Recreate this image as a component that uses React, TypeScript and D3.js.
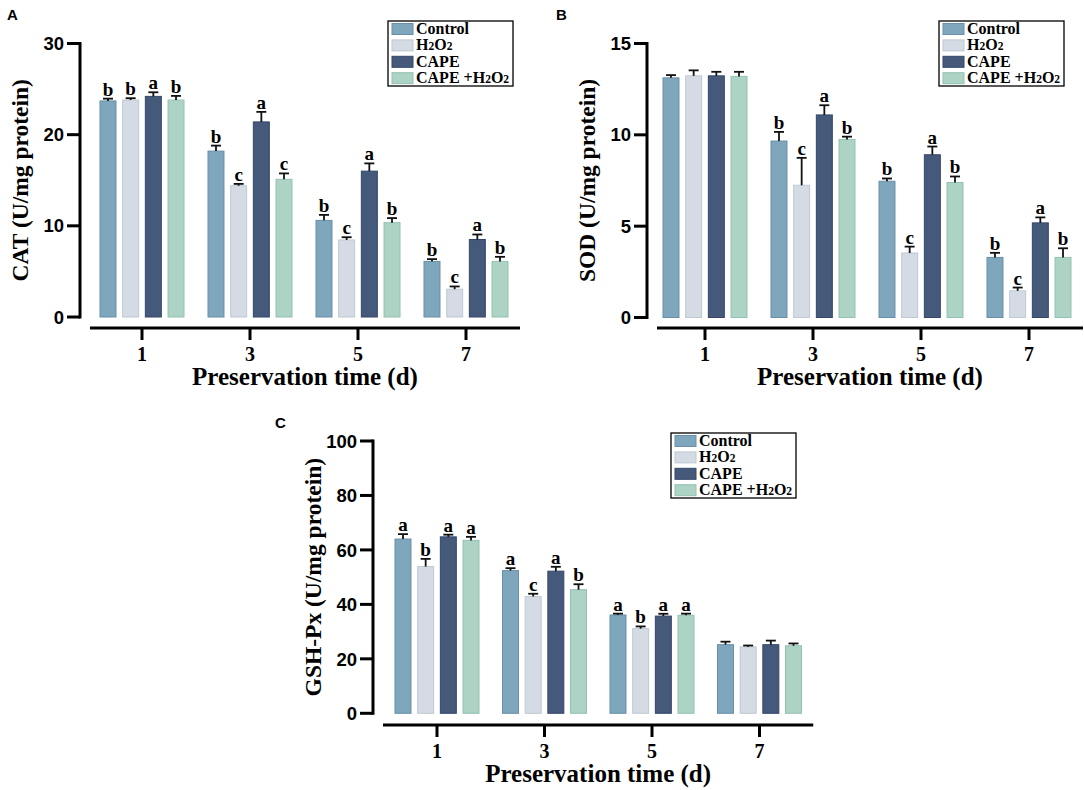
import React from "react";
import * as d3 from "d3";

const days = ["1", "3", "5", "7"];
const seriesNames = ["Control", "H2O2", "CAPE", "CAPE +H2O2"];
const seriesColors = ["#7ea6bc", "#d4dbe4", "#45597b", "#acd3c4"];
const seriesEdges = ["#6990a8", "#bfc8d3", "#34476a", "#94c2b1"];

// CAT (U/mg protein) [day][series]
const catMean = [
  [23.7, 23.8, 24.2, 23.8],
  [18.2, 14.4, 21.4, 15.1],
  [10.6, 8.45, 16.0, 10.35],
  [6.1, 3.05, 8.5, 6.1],
];
const catErr = [
  [0.25, 0.2, 0.45, 0.45],
  [0.6, 0.2, 1.1, 0.65],
  [0.6, 0.3, 0.85, 0.5],
  [0.25, 0.3, 0.55, 0.5],
];
const catLetters = [
  ["b", "b", "a", "b"],
  ["b", "c", "a", "c"],
  ["b", "c", "a", "b"],
  ["b", "c", "a", "b"],
];
const catTicks = [0, 10, 20, 30];

// SOD (U/mg protein)
const sodMean = [
  [13.12, 13.23, 13.23, 13.2],
  [9.66, 7.24, 11.09, 9.75],
  [7.46, 3.53, 8.91, 7.39],
  [3.29, 1.46, 5.18, 3.29],
];
const sodErr = [
  [0.15, 0.3, 0.22, 0.25],
  [0.5, 1.5, 0.53, 0.15],
  [0.15, 0.35, 0.45, 0.33],
  [0.25, 0.18, 0.3, 0.5],
];
const sodLetters = [
  ["", "", "", ""],
  ["b", "c", "a", "b"],
  ["b", "c", "a", "b"],
  ["b", "c", "a", "b"],
];
const sodTicks = [0, 5, 10, 15];

// GSH-Px (U/mg protein)
const gshMean = [
  [64.0, 53.9, 64.8, 63.5],
  [52.4, 42.9, 52.2, 45.4],
  [36.1, 31.1, 35.7, 36.0],
  [25.2, 24.4, 25.2, 24.8],
];
const gshErr = [
  [1.8, 2.8, 0.8, 1.3],
  [0.9, 1.0, 1.6, 2.0],
  [0.5, 0.8, 0.85, 0.6],
  [1.1, 0.5, 1.5, 0.85],
];
const gshLetters = [
  ["a", "b", "a", "a"],
  ["a", "c", "a", "b"],
  ["a", "b", "a", "a"],
  ["", "", "", ""],
];
const gshTicks = [0, 20, 40, 60, 80, 100];

const SERIF = "'Liberation Serif', 'Times New Roman', serif";
const SANS = "'Liberation Sans', Arial, sans-serif";

type PanelProps = {
  tag: string;
  tagX: number;
  tagY: number;
  yAxisX: number;
  yTop: number;
  yZero: number;
  xAxisY: number;
  tick1: number;
  tickStep: number;
  yMax: number;
  ticks: number[];
  mean: number[][];
  err: number[][];
  letters: string[][];
  yTitle: string;
  legendX: number;
  legendY: number;
};

function H2O2Label({ text }: { text: string }) {
  // render subscripts for H2O2
  const parts = text.split(/(2)/);
  return (
    <>
      {parts.map((p, i) =>
        p === "2" ? (
          <tspan key={i} fontSize="0.72em">2</tspan>
        ) : (
          <tspan key={i}>{p}</tspan>
        )
      )}
    </>
  );
}

function Panel(p: PanelProps) {
  const y = d3.scaleLinear().domain([0, p.yMax]).range([p.yZero, p.yTop]);
  const x = d3
    .scalePoint<string>()
    .domain(days)
    .range([p.tick1, p.tick1 + p.tickStep * (days.length - 1)]);
  const inner = d3
    .scaleBand<string>()
    .domain(seriesNames)
    .range([-42, 42])
    .paddingInner(0.295);
  const bw = inner.bandwidth();
  const axisStart = p.yAxisX + 10;
  const axisEnd = (x("7") as number) + p.tickStep / 2;

  return (
    <g>
      <text x={p.tagX} y={p.tagY} fontFamily={SANS} fontWeight="bold" fontSize={15}>
        {p.tag}
      </text>
      {/* bars */}
      {days.map((d, di) =>
        seriesNames.map((s, si) => {
          const bx = (x(d) as number) + (inner(s) as number);
          const v = p.mean[di][si];
          const e = p.err[di][si];
          const top = y(v);
          const etop = y(v + e);
          const cx = bx + bw / 2;
          return (
            <g key={d + s}>
              <rect
                x={bx}
                y={top}
                width={bw}
                height={p.yZero - top}
                fill={seriesColors[si]}
                stroke={seriesEdges[si]}
                strokeWidth={1}
              />
              <line x1={cx} x2={cx} y1={top} y2={etop} stroke="#111" strokeWidth={1.8} />
              <line x1={cx - 5} x2={cx + 5} y1={etop} y2={etop} stroke="#111" strokeWidth={1.8} />
              {p.letters[di][si] && (
                <text
                  x={cx}
                  y={etop - 3}
                  textAnchor="middle"
                  fontFamily={SERIF}
                  fontWeight="bold"
                  fontSize={19}
                >
                  {p.letters[di][si]}
                </text>
              )}
            </g>
          );
        })
      )}
      {/* y axis */}
      <line x1={p.yAxisX} x2={p.yAxisX} y1={y(p.yMax) - 1.5} y2={p.yZero + 1.5} stroke="#000" strokeWidth={3} />
      {p.ticks.map((t) => (
        <g key={t}>
          <line x1={p.yAxisX - 13} x2={p.yAxisX} y1={y(t)} y2={y(t)} stroke="#000" strokeWidth={3} />
          <text
            x={p.yAxisX - 16}
            y={y(t)}
            dy="0.36em"
            textAnchor="end"
            fontFamily={SANS}
            fontWeight="bold"
            fontSize={18.5}
          >
            {t}
          </text>
        </g>
      ))}
      <text
        transform={`translate(${p.yAxisX - 60},${(p.yTop + p.yZero) / 2}) rotate(-90)`}
        textAnchor="middle"
        dy="0.35em"
        fontFamily={SERIF}
        fontWeight="bold"
        fontSize={23.5}
      >
        {p.yTitle}
      </text>
      {/* x axis */}
      <line x1={axisStart} x2={axisEnd} y1={p.xAxisY} y2={p.xAxisY} stroke="#000" strokeWidth={3} />
      {days.map((d) => (
        <g key={d}>
          <line x1={x(d)} x2={x(d)} y1={p.xAxisY} y2={p.xAxisY + 12} stroke="#000" strokeWidth={3} />
          <text
            x={x(d)}
            y={p.xAxisY + 33}
            textAnchor="middle"
            fontFamily={SERIF}
            fontWeight="bold"
            fontSize={20}
          >
            {d}
          </text>
        </g>
      ))}
      <text
        x={(axisStart + axisEnd) / 2}
        y={p.xAxisY + 57}
        textAnchor="middle"
        fontFamily={SERIF}
        fontWeight="bold"
        fontSize={25}
      >
        Preservation time (d)
      </text>
      {/* legend */}
      <g transform={`translate(${p.legendX},${p.legendY})`}>
        <rect x={0} y={0} width={125} height={65} fill="#fff" stroke="#000" strokeWidth={1.3} />
        {seriesNames.map((s, si) => (
          <g key={s} transform={`translate(0,${8 + si * 16.4})`}>
            <rect x={4} y={-5.5} width={21} height={11} fill={seriesColors[si]} stroke={seriesEdges[si]} strokeWidth={1} />
            <text x={28} y={5} fontFamily={SERIF} fontWeight="bold" fontSize={16}>
              <H2O2Label text={s} />
            </text>
          </g>
        ))}
      </g>
    </g>
  );
}

export default function App() {
  return (
    <svg width={1084} height={790} style={{ display: "block", position: "absolute", left: 0, top: 0 }}>
      <rect width={1084} height={790} fill="#fff" />
      <Panel
        tag="A"
        tagX={7}
        tagY={20}
        yAxisX={80}
        yTop={43.5}
        yZero={317}
        xAxisY={328}
        tick1={142}
        tickStep={108}
        yMax={30}
        ticks={catTicks}
        mean={catMean}
        err={catErr}
        letters={catLetters}
        yTitle="CAT (U/mg protein)"
        legendX={388}
        legendY={21}
      />
      <Panel
        tag="B"
        tagX={556}
        tagY={20}
        yAxisX={647}
        yTop={43.5}
        yZero={317.5}
        xAxisY={328}
        tick1={705}
        tickStep={108}
        yMax={15}
        ticks={sodTicks}
        mean={sodMean}
        err={sodErr}
        letters={sodLetters}
        yTitle="SOD (U/mg protein)"
        legendX={939}
        legendY={21}
      />
      <Panel
        tag="C"
        tagX={275}
        tagY={428}
        yAxisX={373}
        yTop={441}
        yZero={713.3}
        xAxisY={725}
        tick1={437}
        tickStep={107.5}
        yMax={100}
        ticks={gshTicks}
        mean={gshMean}
        err={gshErr}
        letters={gshLetters}
        yTitle="GSH-Px (U/mg protein)"
        legendX={671}
        legendY={433}
      />
    </svg>
  );
}
